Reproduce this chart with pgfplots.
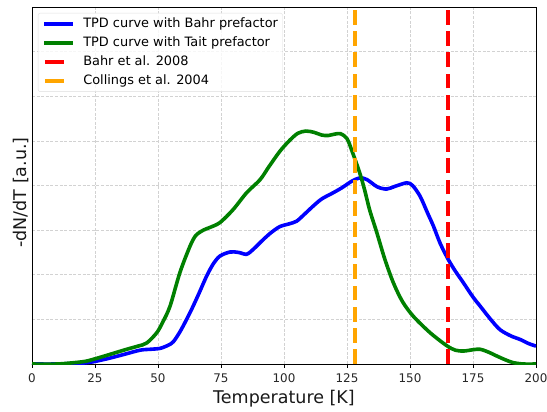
\documentclass[border=0pt]{standalone}
\usepackage{pgfplots}
\pgfplotsset{compat=1.18}
\usepackage{fontspec}
\setmainfont{DejaVu Sans}
\definecolor{mplblue}{RGB}{0,0,255}
\definecolor{mplgreen}{RGB}{0,128,0}
\definecolor{mplred}{RGB}{255,0,0}
\definecolor{mplorange}{RGB}{255,165,0}
\pgfplotsset{
  vlineleg/.style={legend image code/.code={\draw[##1, solid] (0.5bp,0bp) -- (19.5bp,0bp);}},
  curveleg/.style={legend image code/.code={\draw[##1] (0bp,0bp) -- (29bp,0bp);}},
}
\begin{document}
\begin{tikzpicture}
\path[use as bounding box] (-32bp,-48bp) rectangle (515bp,364bp);
\begin{axis}[
  at={(0,0)}, anchor=south west,
  scale only axis,
  width=504bp, height=357bp,
  xmin=0, xmax=200, ymin=0, ymax=8,
  xtick={0,25,...,200},
  ytick={0,1,...,8},
  yticklabels={},
  ytick style={draw=none},
  tick pos=left,
  tick align=outside,
  major tick length=3.5bp,
  xtick style={black, line width=0.8bp},
  axis line style={black, line width=0.9bp},
  grid=major,
  major grid style={gray!35, line width=0.6bp, dash pattern=on 3bp off 1.6bp},
  /pgf/number format/assume math mode=true,
  ticklabel style={font=\fontsize{11.9bp}{14bp}\selectfont, text=black!85},
  xticklabel style={yshift=-2.5bp},
  xlabel={Temperature [K]},
  ylabel={-dN/dT [a.u.]},
  label style={font=\fontsize{17.5bp}{20bp}\selectfont, text=black!90},
  xlabel style={yshift=-1bp},
  ylabel style={at={(axis description cs:0,0.5)}, anchor=south, rotate=0, xshift=-7bp},
  legend cell align=left,
  legend style={
    at={(rel axis cs:0,1)}, anchor=north west, xshift=6bp, yshift=-6bp,
    font=\fontsize{12.9bp}{15bp}\selectfont,
    draw=gray!25, rounded corners=2bp, fill=white, fill opacity=0.8, text opacity=1,
    inner xsep=4.5bp, inner ysep=4.5bp,
    row sep=6.5bp,
    nodes={inner sep=0pt, text height=9.5bp, text depth=3bp},
    /tikz/every odd column/.append style={column sep=8bp},
  },
]
\addplot[mplblue, line width=3.6bp, smooth, tension=0.5, curveleg] coordinates {
(0,0) (10,0) (20,0.02) (24.3,0.05) (30,0.12) (36.2,0.21) (42.9,0.31) (47,0.33)
(50.8,0.35) (54,0.42) (56.1,0.5) (59,0.75) (62.7,1.15) (66,1.55) (69.3,1.97)
(72,2.25) (74.6,2.42) (78.6,2.51) (82,2.5) (85.2,2.46) (88,2.58) (91.8,2.79)
(95,2.95) (98.4,3.08) (102,3.14) (105,3.2) (108,3.35) (111.6,3.54) (115,3.7)
(119.6,3.84) (123,3.95) (127,4.1) (130.2,4.17) (133,4.13) (137,3.97) (140.7,3.92)
(144,3.98) (148.7,4.06) (151,4.0) (154,3.76) (157,3.38) (159.3,3.09) (162,2.7)
(165.2,2.34) (168,2.08) (171.2,1.82) (175,1.5) (177.8,1.3) (182,1.0) (185.7,0.77)
(190,0.63) (193.7,0.55) (197,0.46) (200,0.4)
};
\addlegendentry{TPD curve with Bahr prefactor}
\addplot[mplgreen, line width=3.6bp, smooth, tension=0.5, curveleg] coordinates {
(0,0) (10,0) (20,0.05) (24,0.1) (30,0.2) (37.6,0.33) (42,0.4) (45.5,0.47)
(49.5,0.7) (52,0.95) (54.8,1.3) (58.7,2.05) (62.7,2.64) (65,2.88) (68,3.0) (70.6,3.06)
(74.6,3.17) (79.8,3.46) (85.2,3.84) (90.5,4.13) (94,4.42) (98.4,4.77) (102.4,5.02)
(105.5,5.17) (108.7,5.22) (112,5.19) (115,5.13) (117.5,5.12) (120,5.15) (122.5,5.16)
(125,5.05) (127,4.77) (130,4.29) (132,3.9) (134,3.45) (136.8,2.95) (140,2.35)
(143.4,1.82) (147,1.4) (151.3,1.07) (158,0.7) (164.6,0.41) (168,0.31) (171.2,0.29)
(175,0.32) (177.8,0.33) (181,0.27) (184.4,0.18) (188,0.09) (191,0.03) (195,0) (200,0)
};
\addlegendentry{TPD curve with Tait prefactor}
\addplot[mplred, line width=4bp, dash pattern=on 14.8bp off 6.4bp, vlineleg]
  coordinates {(165,0) (165,8)};
\addlegendentry{Bahr et al. 2008}
\addplot[mplorange, line width=4bp, dash pattern=on 14.8bp off 6.4bp, vlineleg]
  coordinates {(128,0) (128,8)};
\addlegendentry{Collings et al. 2004}
\end{axis}
\end{tikzpicture}
\end{document}
